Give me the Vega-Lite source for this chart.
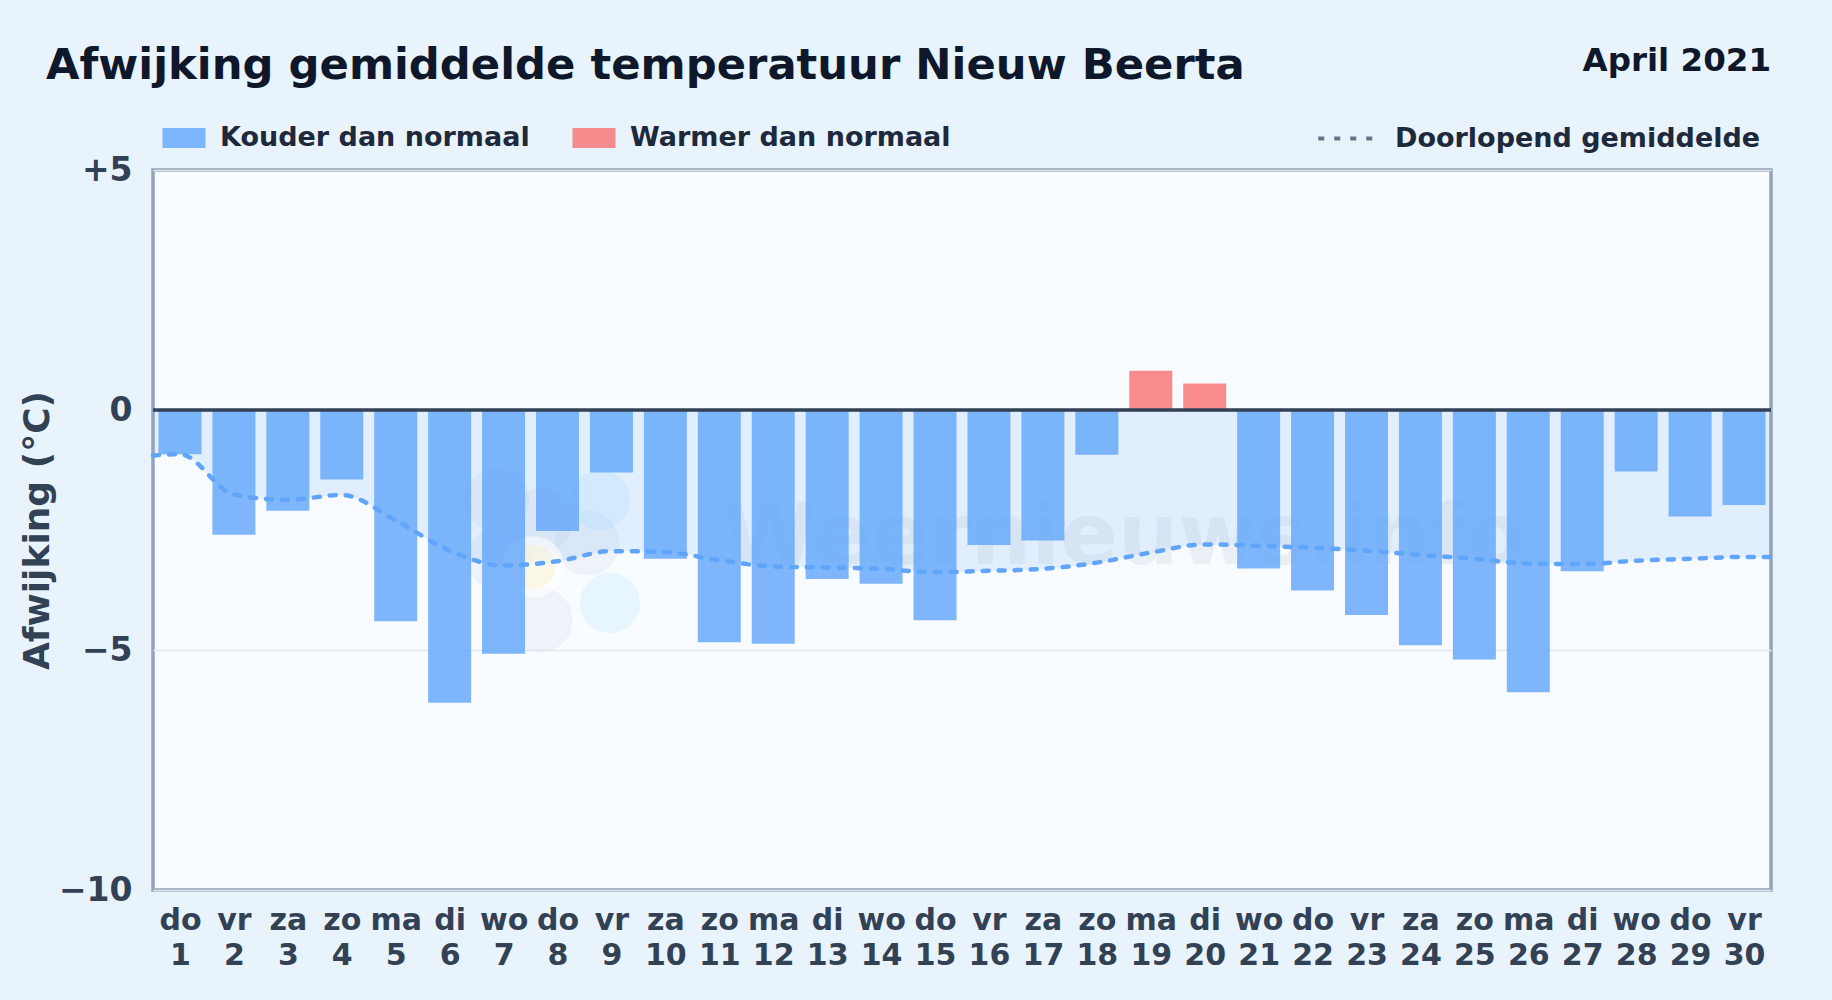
{"$schema":"https://vega.github.io/schema/vega-lite/v6.json","width":1618,"height":720,"autosize":{"type":"none"},"padding":{"left":153,"top":170,"right":61,"bottom":110},"background":"#e8f3fc","view":{"fill":"#f8fbff","stroke":"#94a3b8","strokeWidth":3.5},"title":{"text":"Afwijking gemiddelde temperatuur Nieuw Beerta","anchor":"start","frame":"group","dx":-107,"offset":-43.5,"font":"DejaVu Sans","fontSize":43.3,"fontWeight":"bold","color":"#0f172a"},"datasets":{"days":[{"day":1,"dow":"do","value":-0.92,"kind":"Kouder dan normaal"},{"day":2,"dow":"vr","value":-2.6,"kind":"Kouder dan normaal"},{"day":3,"dow":"za","value":-2.1,"kind":"Kouder dan normaal"},{"day":4,"dow":"zo","value":-1.45,"kind":"Kouder dan normaal"},{"day":5,"dow":"ma","value":-4.4,"kind":"Kouder dan normaal"},{"day":6,"dow":"di","value":-6.1,"kind":"Kouder dan normaal"},{"day":7,"dow":"wo","value":-5.08,"kind":"Kouder dan normaal"},{"day":8,"dow":"do","value":-2.52,"kind":"Kouder dan normaal"},{"day":9,"dow":"vr","value":-1.3,"kind":"Kouder dan normaal"},{"day":10,"dow":"za","value":-3.1,"kind":"Kouder dan normaal"},{"day":11,"dow":"zo","value":-4.84,"kind":"Kouder dan normaal"},{"day":12,"dow":"ma","value":-4.87,"kind":"Kouder dan normaal"},{"day":13,"dow":"di","value":-3.52,"kind":"Kouder dan normaal"},{"day":14,"dow":"wo","value":-3.62,"kind":"Kouder dan normaal"},{"day":15,"dow":"do","value":-4.38,"kind":"Kouder dan normaal"},{"day":16,"dow":"vr","value":-2.81,"kind":"Kouder dan normaal"},{"day":17,"dow":"za","value":-2.72,"kind":"Kouder dan normaal"},{"day":18,"dow":"zo","value":-0.93,"kind":"Kouder dan normaal"},{"day":19,"dow":"ma","value":0.82,"kind":"Warmer dan normaal"},{"day":20,"dow":"di","value":0.55,"kind":"Warmer dan normaal"},{"day":21,"dow":"wo","value":-3.3,"kind":"Kouder dan normaal"},{"day":22,"dow":"do","value":-3.76,"kind":"Kouder dan normaal"},{"day":23,"dow":"vr","value":-4.27,"kind":"Kouder dan normaal"},{"day":24,"dow":"za","value":-4.9,"kind":"Kouder dan normaal"},{"day":25,"dow":"zo","value":-5.2,"kind":"Kouder dan normaal"},{"day":26,"dow":"ma","value":-5.88,"kind":"Kouder dan normaal"},{"day":27,"dow":"di","value":-3.36,"kind":"Kouder dan normaal"},{"day":28,"dow":"wo","value":-1.28,"kind":"Kouder dan normaal"},{"day":29,"dow":"do","value":-2.22,"kind":"Kouder dan normaal"},{"day":30,"dow":"vr","value":-1.98,"kind":"Kouder dan normaal"}],"running":[{"day":0.5,"mean":-0.95,"s":"Doorlopend gemiddelde"},{"day":1,"mean":-0.92,"s":"Doorlopend gemiddelde"},{"day":2,"mean":-1.76,"s":"Doorlopend gemiddelde"},{"day":3,"mean":-1.87,"s":"Doorlopend gemiddelde"},{"day":4,"mean":-1.77,"s":"Doorlopend gemiddelde"},{"day":5,"mean":-2.3,"s":"Doorlopend gemiddelde"},{"day":6,"mean":-2.93,"s":"Doorlopend gemiddelde"},{"day":7,"mean":-3.24,"s":"Doorlopend gemiddelde"},{"day":8,"mean":-3.15,"s":"Doorlopend gemiddelde"},{"day":9,"mean":-2.94,"s":"Doorlopend gemiddelde"},{"day":10,"mean":-2.96,"s":"Doorlopend gemiddelde"},{"day":11,"mean":-3.13,"s":"Doorlopend gemiddelde"},{"day":12,"mean":-3.26,"s":"Doorlopend gemiddelde"},{"day":13,"mean":-3.28,"s":"Doorlopend gemiddelde"},{"day":14,"mean":-3.31,"s":"Doorlopend gemiddelde"},{"day":15,"mean":-3.38,"s":"Doorlopend gemiddelde"},{"day":16,"mean":-3.35,"s":"Doorlopend gemiddelde"},{"day":17,"mean":-3.31,"s":"Doorlopend gemiddelde"},{"day":18,"mean":-3.18,"s":"Doorlopend gemiddelde"},{"day":19,"mean":-2.97,"s":"Doorlopend gemiddelde"},{"day":20,"mean":-2.8,"s":"Doorlopend gemiddelde"},{"day":21,"mean":-2.83,"s":"Doorlopend gemiddelde"},{"day":22,"mean":-2.87,"s":"Doorlopend gemiddelde"},{"day":23,"mean":-2.93,"s":"Doorlopend gemiddelde"},{"day":24,"mean":-3.02,"s":"Doorlopend gemiddelde"},{"day":25,"mean":-3.1,"s":"Doorlopend gemiddelde"},{"day":26,"mean":-3.2,"s":"Doorlopend gemiddelde"},{"day":27,"mean":-3.21,"s":"Doorlopend gemiddelde"},{"day":28,"mean":-3.14,"s":"Doorlopend gemiddelde"},{"day":29,"mean":-3.1,"s":"Doorlopend gemiddelde"},{"day":30,"mean":-3.06,"s":"Doorlopend gemiddelde"},{"day":30.5,"mean":-3.06,"s":"Doorlopend gemiddelde"}],"notes":[{"day":30.5,"y":7.27,"label":"April 2021"}],"mark_text":[{"day":18.5,"y":-2.67,"label":"Weernieuws.info"}],"logo_grey":[{"day":6.88,"y":-1.875},{"day":8.55,"y":-2.77},{"day":7.68,"y":-4.375},{"day":6.93,"y":-3.1},{"day":7.68,"y":-2.3}],"logo_sun":[{"day":7.55,"y":-3.27}],"logo_blue":[{"day":8.97,"y":-4.02},{"day":8.79,"y":-1.88}],"zero":[{"z":0}]},"data":{"name":"days"},"layer":[{"data":{"name":"running"},"mark":{"type":"area","interpolate":"monotone","color":"#60a5fa","opacity":0.15},"encoding":{"x":{"field":"day","type":"quantitative","scale":{"domain":[0.5,30.5],"nice":false,"zero":false,"padding":0}},"y":{"field":"mean","type":"quantitative","scale":{"domain":[-10,5],"nice":false,"zero":false}},"y2":{"datum":0}}},{"data":{"name":"logo_grey"},"mark":{"type":"point","filled":true,"size":4200,"color":"#94a3b8","opacity":0.09},"encoding":{"x":{"field":"day","type":"quantitative"},"y":{"field":"y","type":"quantitative"}}},{"data":{"name":"logo_blue"},"mark":{"type":"point","filled":true,"size":3600,"color":"#7dd3fc","opacity":0.14},"encoding":{"x":{"field":"day","type":"quantitative"},"y":{"field":"y","type":"quantitative"}}},{"data":{"name":"logo_sun"},"mark":{"type":"point","filled":true,"size":3800,"color":"#ffffff","opacity":0.6},"encoding":{"x":{"field":"day","type":"quantitative"},"y":{"field":"y","type":"quantitative"}}},{"data":{"name":"logo_sun"},"mark":{"type":"point","filled":true,"size":2000,"color":"#fde68a","opacity":0.2},"encoding":{"x":{"field":"day","type":"quantitative"},"y":{"field":"y","type":"quantitative"}}},{"data":{"name":"mark_text"},"mark":{"type":"text","align":"center","baseline":"middle","font":"DejaVu Sans","fontWeight":"bold","fontSize":85,"color":"#94a3b8","opacity":0.13},"encoding":{"x":{"field":"day","type":"quantitative"},"y":{"field":"y","type":"quantitative"},"text":{"field":"label"}}},{"mark":{"type":"bar","size":43,"opacity":0.8},"encoding":{"x":{"field":"day","type":"quantitative","axis":{"values":[1,2,3,4,5,6,7,8,9,10,11,12,13,14,15,16,17,18,19,20,21,22,23,24,25,26,27,28,29,30],"title":null,"grid":false,"ticks":false,"domain":false,"labelFont":"DejaVu Sans","labelFontWeight":"bold","labelFontSize":30,"labelColor":"#334155","labelPadding":15,"labelLineHeight":35,"labelOverlap":false,"labelFlush":false,"labelBound":false,"labelExpr":"[split('do,vr,za,zo,ma,di,wo,do,vr,za,zo,ma,di,wo,do,vr,za,zo,ma,di,wo,do,vr,za,zo,ma,di,wo,do,vr',',')[datum.value-1],''+datum.value]"}},"y":{"field":"value","type":"quantitative","axis":{"values":[-10,-5,0,5],"title":"Afwijking (°C)","titleFont":"DejaVu Sans","titleFontWeight":"bold","titleFontSize":36,"titleColor":"#334155","titlePadding":2,"grid":true,"gridColor":"#e2e8f0","gridWidth":1.5,"ticks":false,"domain":false,"labelFont":"DejaVu Sans","labelFontWeight":"bold","labelFontSize":33,"labelColor":"#334155","labelPadding":21,"labelExpr":"datum.value>0?'+'+datum.value:datum.value<0?'−'+abs(datum.value):'0'"}},"y2":{"datum":0},"color":{"field":"kind","type":"nominal","scale":{"domain":["Kouder dan normaal","Warmer dan normaal"],"range":["#60a5fa","#f87171"]},"legend":{"orient":"none","legendX":9,"legendY":-54,"direction":"horizontal","title":null,"labelFont":"DejaVu Sans","labelFontWeight":"bold","labelFontSize":27,"labelLimit":600,"labelColor":"#1e293b","symbolType":"M-1,-0.46H1V0.46H-1Z","symbolSize":1850,"symbolOpacity":0.8,"symbolStrokeWidth":0,"columnPadding":42,"labelOffset":14}}}},{"data":{"name":"running"},"mark":{"type":"line","interpolate":"monotone","color":"#60a5fa","strokeWidth":4.5,"strokeCap":"round"},"encoding":{"x":{"field":"day","type":"quantitative"},"y":{"field":"mean","type":"quantitative"},"strokeDash":{"field":"s","type":"nominal","scale":{"domain":["Doorlopend gemiddelde"],"range":[[6,10]]},"legend":{"orient":"none","legendX":1163,"legendY":-62,"title":null,"labelFont":"DejaVu Sans","labelFontWeight":"bold","labelFontSize":27,"labelLimit":600,"labelColor":"#1e293b","symbolType":"stroke","symbolSize":3200,"symbolStrokeColor":"#64748b","symbolStrokeWidth":4,"labelOffset":18}}}},{"data":{"name":"zero"},"mark":{"type":"rule","color":"#334155","strokeWidth":3.5},"encoding":{"y":{"field":"z","type":"quantitative"}}},{"data":{"name":"notes"},"mark":{"type":"text","align":"right","baseline":"middle","font":"DejaVu Sans","fontWeight":"bold","fontSize":32.5,"color":"#0f172a"},"encoding":{"x":{"field":"day","type":"quantitative"},"y":{"field":"y","type":"quantitative"},"text":{"field":"label"}}}]}
